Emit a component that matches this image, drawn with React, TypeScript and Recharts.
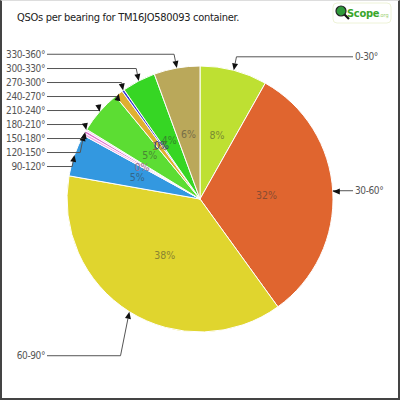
import React from "react";
import { PieChart, Pie, Cell } from "recharts";

// QSOs per 30° bearing sector
const bearings = [
  "0-30°",
  "30-60°",
  "60-90°",
  "90-120°",
  "120-150°",
  "150-180°",
  "180-210°",
  "210-240°",
  "240-270°",
  "270-300°",
  "300-330°",
  "330-360°",
];
const qsoCounts = [82, 320, 379, 52, 3, 3, 2, 53, 10, 3, 41, 56];
const sliceColors = [
  "#BEE032",
  "#E0652F",
  "#E0D52E",
  "#3398E0",
  "#F4A8E6",
  "#E070D0",
  "#F0C4F0",
  "#5CDD33",
  "#E0B030",
  "#3A3AD0",
  "#36D624",
  "#BAA85A",
];

const CX = 200;
const CY = 199;
const R = 133;
const FONT = "'DejaVu Sans Condensed', 'Liberation Sans Narrow', sans-serif";
const RAD = Math.PI / 180;

const data = bearings.map((name, i) => ({ name, value: qsoCounts[i] }));
const total = qsoCounts.reduce((a, b) => a + b, 0);

// mix a slice colour with dark grey for the inner percent text
const mixGrey = (hex: string) => {
  const n = parseInt(hex.slice(1), 16);
  const m = (c: number) => Math.round(c * 0.5 + 51 * 0.5);
  return `rgb(${m((n >> 16) & 255)},${m((n >> 8) & 255)},${m(n & 255)})`;
};

// vertical position of every callout, spread so the labels don't collide
const calloutLayout = (() => {
  let acc = 0;
  const items = qsoCounts.map((v, i) => {
    const mid = ((acc + v / 2) / total) * 360; // clockwise from top
    acc += v;
    const c = Math.cos(mid * RAD);
    const side = Math.sin(mid * RAD) < 0 ? "left" : "right";
    const y = CY - c * (c > 0 ? R + 14 : R + 52);
    return { i, side, y };
  });
  ["left", "right"].forEach((side) => {
    const list = items.filter((d) => d.side === side).sort((a, b) => a.y - b.y);
    for (let k = 1; k < list.length; k++) {
      if (list[k].y < list[k - 1].y + 14) list[k].y = list[k - 1].y + 14;
    }
  });
  return items;
})();

const renderLabel = (props: any) => {
  const { cx, cy, midAngle, outerRadius, percent, index } = props;
  const cos = Math.cos(-midAngle * RAD);
  const sin = Math.sin(-midAngle * RAD);
  const ir = outerRadius * 0.5;
  const tx = cx + outerRadius * cos;
  const ty = cy + outerRadius * sin;
  const { side, y: ly } = calloutLayout[index];
  const left = side === "left";
  const ex = tx + (left ? -1 : 1) * Math.abs(ly - ty) * 0.2;
  const lineStart = left ? 47 : 353;
  let ux = tx - ex;
  let uy = ty - ly;
  let len = Math.hypot(ux, uy);
  if (len < 1) {
    ux = tx - lineStart;
    uy = 0;
    len = Math.abs(ux);
  }
  ux /= len;
  uy /= len;
  const bx = tx - ux * 7;
  const by = ty - uy * 7;
  const arrow = `${tx},${ty} ${bx - uy * 3},${by + ux * 3} ${bx + uy * 3},${by - ux * 3}`;
  // consecutive tiny slices share one percent label
  const prevTiny = index > 0 && qsoCounts[index - 1] / total < 0.005;
  const showPct = !(prevTiny && percent < 0.005);
  return (
    <g>
      {showPct && (
        <text
          x={cx + ir * cos}
          y={cy + ir * sin}
          textAnchor="middle"
          dominantBaseline="central"
          fill={mixGrey(sliceColors[index])}
          fontSize={10.5}
          fontFamily={FONT}
        >
          {`${Math.round(percent * 100)}%`}
        </text>
      )}
      <polyline
        points={`${lineStart},${ly} ${ex},${ly} ${bx},${by}`}
        fill="none"
        stroke="#555"
        strokeWidth={1}
      />
      <polygon points={arrow} fill="#111" />
      <text
        x={left ? 45 : 355}
        y={ly}
        textAnchor={left ? "end" : "start"}
        dominantBaseline="central"
        fill="#555"
        fontSize={10}
        letterSpacing={-0.4}
        fontFamily={FONT}
      >
        {bearings[index]}
      </text>
    </g>
  );
};

const App: React.FC = () => {
  return (
    <div
      style={{
        position: "absolute",
        left: 0,
        top: 0,
        width: 400,
        height: 400,
        background: "#fff",
        boxSizing: "border-box",
        borderLeft: "2px solid #444",
        borderRight: "2px solid #444",
        borderBottom: "2px solid #444",
        borderTop: "1px solid #ddd",
        overflow: "hidden",
      }}
    >
      <div style={{ position: "absolute", left: -2, top: -1 }}>
        <PieChart width={400} height={400} margin={{ top: 0, right: 0, bottom: 0, left: 0 }}>
          <Pie
            data={data}
            dataKey="value"
            nameKey="name"
            cx={CX}
            cy={CY}
            outerRadius={R}
            startAngle={90}
            endAngle={-270}
            stroke="#fff"
            strokeWidth={1}
            labelLine={false}
            label={renderLabel}
            isAnimationActive={false}
          >
            {data.map((d, i) => (
              <Cell key={d.name} fill={sliceColors[i]} />
            ))}
          </Pie>
        </PieChart>
      </div>
      <svg width={400} height={30} style={{ position: "absolute", left: -2, top: -1 }}>
        <text x={17} y={21} fontSize={11} letterSpacing={-0.3} fill="#222" fontFamily={FONT}>
          QSOs per bearing for TM16JO580093 container.
        </text>
        <rect x={333} y={3} width={58} height={20} rx={4} fill="#fff" stroke="#eef3d8" />
        <line x1={343} y1={13} x2={349} y2={19} stroke="#111" strokeWidth={2.2} />
        <circle cx={341} cy={11} r={5} fill="#2f9a3a" stroke="#222" strokeWidth={1.2} />
        <text x={347} y={17} fontSize={11} fontWeight="bold" letterSpacing={-0.3} fill="#3aa62a" fontFamily={FONT}>
          Scope
        </text>
        <text x={379} y={17} fontSize={5.5} fill="#9ccf70" fontFamily={FONT}>
          .org
        </text>
      </svg>
    </div>
  );
};

export default App;
